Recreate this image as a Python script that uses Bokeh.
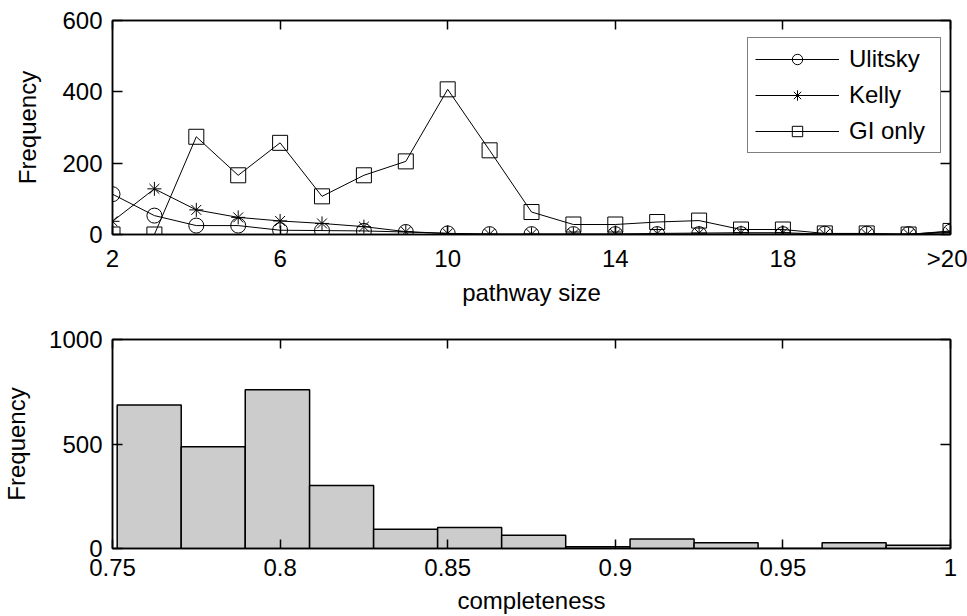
from bokeh.plotting import figure
from bokeh.layouts import column
from bokeh.models import Range1d, FixedTicker, LinearAxis, Legend, LegendItem, ColumnDataSource
from bokeh.embed import file_html
from bokeh.resources import INLINE

# ---- data: top panel (pathway size distribution) ----
sizes = [2, 3, 4, 5, 6, 7, 8, 9, 10, 11, 12, 13, 14, 15, 16, 17, 18, 19, 20, 21, 22]
ulitsky = [113, 53, 25, 25, 12, 11, 10, 7, 3, 1, 1, 1, 1, 1, 1, 1, 1, 2, 2, 1, 8]
kelly = [37, 128, 69, 48, 38, 31, 22, 8, 3, 1, 1, 1, 1, 3, 4, 5, 5, 1, 1, 1, 5]
gi_only = [0, 0, 274, 166, 257, 107, 166, 205, 407, 236, 63, 28, 28, 35, 39, 14, 14, 3, 3, 0, 10]
size_ticks = [2, 6, 10, 14, 18, 22]
size_tick_labels = ["2", "6", "10", "14", "18", ">20"]
freq_ticks_top = [0, 200, 400, 600]

# ---- data: bottom panel (completeness histogram) ----
bin_left = [0.7514, 0.7705, 0.7896, 0.8088, 0.8279, 0.8470, 0.8661, 0.8852, 0.9044, 0.9235, 0.9426, 0.9617, 0.9808]
bin_right = [0.7705, 0.7896, 0.8088, 0.8279, 0.8470, 0.8661, 0.8852, 0.9044, 0.9235, 0.9426, 0.9617, 0.9808, 1.0]
counts = [687, 487, 759, 302, 92, 100, 63, 8, 46, 27, 0, 27, 16]
comp_ticks = [0.75, 0.8, 0.85, 0.9, 0.95, 1.0]
comp_tick_labels = ["0.75", "0.8", "0.85", "0.9", "0.95", "1"]
freq_ticks_bot = [0, 500, 1000]

FONT = "Liberation Sans"
FS = "24px"


def style_axis(ax, ticks, tick_in, labels=None, show_labels=True):
    ax.ticker = FixedTicker(ticks=ticks)
    ax.minor_tick_line_color = None
    ax.major_tick_in = tick_in
    ax.major_tick_out = 0
    ax.axis_line_color = "black"
    ax.axis_line_width = 1.5
    ax.major_tick_line_color = "black"
    ax.major_tick_line_width = 1.5
    ax.major_label_text_font = FONT
    ax.major_label_text_font_size = FS
    ax.major_label_text_color = "black"
    ax.axis_label_text_font = FONT
    ax.axis_label_text_font_size = FS
    ax.axis_label_text_font_style = "normal"
    ax.axis_label_text_color = "black"
    if labels is not None:
        ax.major_label_overrides = {t: l for t, l in zip(ticks, labels)}
    if not show_labels:
        ax.major_label_overrides = {t: "" for t in ticks}
        ax.major_label_text_font_size = "0px"
        ax.major_label_standoff = 0


def base_fig(height, xr, yr, border_top, border_bottom):
    p = figure(width=967, height=height, x_range=xr, y_range=yr,
               output_backend="svg", toolbar_location=None,
               min_border_left=111, min_border_right=17,
               min_border_top=border_top, min_border_bottom=border_bottom)
    p.grid.visible = False
    p.outline_line_color = "black"
    p.outline_line_width = 1.5
    p.background_fill_color = "white"
    p.border_fill_color = "white"
    return p


# ---------------- top panel ----------------
p1 = base_fig(310, Range1d(2, 22), Range1d(0, 600), 20, 76)
r_u_line = p1.line(sizes, ulitsky, line_color="black", line_width=1)
r_u_pts = p1.scatter(sizes, ulitsky, marker="circle", size=15, line_color="black",
                     fill_alpha=0, line_width=1)
r_k_line = p1.line(sizes, kelly, line_color="black", line_width=1)
r_k_pts = p1.scatter(sizes, kelly, marker="asterisk", size=14, line_color="black", line_width=1)
r_g_line = p1.line(sizes, gi_only, line_color="black", line_width=1)
r_g_pts = p1.scatter(sizes, gi_only, marker="square", size=15, line_color="black",
                     fill_alpha=0, line_width=1)

style_axis(p1.xaxis[0], size_ticks, 9, labels=size_tick_labels)
style_axis(p1.yaxis[0], freq_ticks_top, 10)
p1.xaxis[0].axis_label = "pathway size"
p1.xaxis[0].major_label_standoff = 10
p1.xaxis[0].axis_label_standoff = 4
p1.yaxis[0].axis_label = "Frequency"
p1.yaxis[0].major_label_standoff = 10
p1.yaxis[0].axis_label_standoff = 18

ax_top = LinearAxis()
style_axis(ax_top, size_ticks, 9, show_labels=False)
p1.add_layout(ax_top, "above")
ax_right = LinearAxis()
style_axis(ax_right, freq_ticks_top, 10, show_labels=False)
p1.add_layout(ax_right, "right")

legend = Legend(items=[
    LegendItem(label="Ulitsky", renderers=[r_u_line, r_u_pts]),
    LegendItem(label="Kelly", renderers=[r_k_line, r_k_pts]),
    LegendItem(label="GI only", renderers=[r_g_line, r_g_pts]),
], location=(635, 81))
legend.label_text_font = FONT
legend.label_text_font_size = FS
legend.label_text_color = "black"
legend.border_line_color = "black"
legend.border_line_width = 1.5
legend.background_fill_color = "white"
legend.background_fill_alpha = 1
legend.padding = 7
legend.margin = 0
legend.spacing = 8
legend.glyph_width = 84
legend.glyph_height = 26
legend.label_height = 26
legend.label_width = 84
legend.label_standoff = 10
p1.add_layout(legend, "center")

# ---------------- bottom panel ----------------
p2 = base_fig(306, Range1d(0.75, 1.0), Range1d(0, 1000), 29, 66)
src = ColumnDataSource(dict(left=bin_left, right=bin_right, top=counts, bottom=[0] * len(counts)))
p2.quad(left="left", right="right", top="top", bottom="bottom", source=src,
        fill_color="#cccccc", line_color="black", line_width=1.5)

style_axis(p2.xaxis[0], comp_ticks, 9, labels=comp_tick_labels)
style_axis(p2.yaxis[0], freq_ticks_bot, 10)
p2.xaxis[0].axis_label = "completeness"
p2.xaxis[0].major_label_standoff = 10
p2.xaxis[0].axis_label_standoff = 8
p2.yaxis[0].axis_label = "Frequency"
p2.yaxis[0].major_label_standoff = 10
p2.yaxis[0].axis_label_standoff = 16

ax_top2 = LinearAxis()
style_axis(ax_top2, comp_ticks, 9, show_labels=False)
p2.add_layout(ax_top2, "above")
ax_right2 = LinearAxis()
style_axis(ax_right2, freq_ticks_bot, 10, show_labels=False)
p2.add_layout(ax_right2, "right")

layout = column(p1, p2, spacing=0)
open("out.html", "w").write(file_html(layout, INLINE))
